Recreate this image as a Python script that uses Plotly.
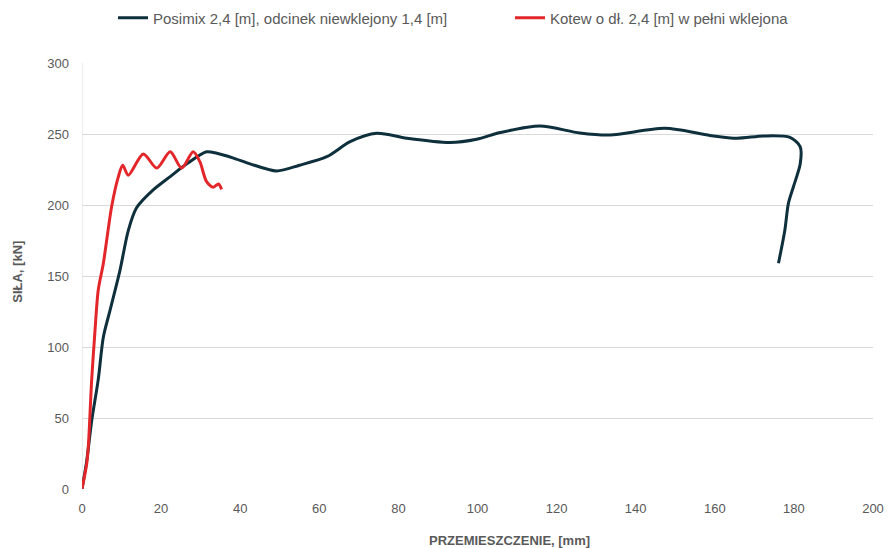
import plotly.graph_objects as go

# Load–displacement data (displacement in mm, force in kN)
posimix_x = [0, 1.2, 2.45, 4.1, 5.4, 7.1, 9.6, 11.7, 13.8, 18.0, 22.3, 26.5, 31.5, 34.1, 38.3,
             42.5, 49.2, 55.0, 61.9, 67.8, 74.5, 82.1, 93.0, 99.8, 105.7, 115.8, 125.9,
             133.5, 147.4, 158.8, 165.6, 172.3, 179.0, 181.6, 181.6, 179.9, 178.6, 177.7, 176.1]
posimix_y = [0, 20, 48, 77, 107, 126, 154, 182, 198, 210.6, 220, 229, 237.5, 236.4, 233,
             229, 224, 228, 234, 244.6, 250.5, 247, 244, 246.3, 251, 255.6, 250.7,
             249.3, 254, 249, 247, 248.6, 247.6, 241, 229, 213, 201, 182, 159]

kotew_x = [0, 1.2, 1.6, 2.45, 3.3, 4.1, 5.4, 7.5, 9.2, 10.3, 11.7, 15.5, 18.9, 22.3, 25.2,
           28.1, 29.8, 31.5, 33.2, 34.5, 35.3]
kotew_y = [0, 18, 30, 77, 112, 140, 159, 199, 220, 228, 221, 236, 226, 237.5, 226,
           237.5, 230.5, 216.4, 212.5, 214.8, 211]

series_names = ["Posimix 2,4 [m], odcinek niewklejony 1,4 [m]",
                "Kotew o dł. 2,4 [m] w pełni wklejona"]
x_ticks = list(range(0, 201, 20))
y_ticks = list(range(0, 301, 50))

FONT = "Liberation Sans, Arial, sans-serif"
GRAY = "#595959"

fig = go.Figure()
fig.add_trace(go.Scatter(x=posimix_x, y=posimix_y, mode="lines", name=series_names[0],
                         legend="legend",
                         line=dict(color="#0E2F3C", width=3, shape="spline", smoothing=0.8)))
fig.add_trace(go.Scatter(x=kotew_x, y=kotew_y, mode="lines", name=series_names[1],
                         legend="legend2",
                         line=dict(color="#E3262A", width=3, shape="spline", smoothing=0.8)))

legend_common = dict(orientation="h", xanchor="left", yref="container", y=1 - 18 / 548,
                     yanchor="middle", xref="container",
                     font=dict(size=15, color=GRAY), itemwidth=30)

fig.update_layout(
    width=889, height=548,
    margin=dict(l=82, r=16, t=63, b=59, autoexpand=False),
    plot_bgcolor="white", paper_bgcolor="white",
    font=dict(family=FONT, color=GRAY, size=13),
    showlegend=True,
    legend=dict(x=113 / 889, **legend_common),
    legend2=dict(x=510 / 889, **legend_common),
    xaxis=dict(range=[0, 200], tickvals=x_ticks, showgrid=False, zeroline=False,
               showline=False, ticks="", automargin=False, ticklabelstandoff=10,
               tickfont=dict(size=13, color=GRAY)),
    yaxis=dict(range=[0, 300], tickvals=y_ticks, showgrid=True, gridcolor="#D9D9D9",
               gridwidth=1, zeroline=False, showline=False, ticks="", automargin=False,
               ticklabelstandoff=12, tickfont=dict(size=13, color=GRAY)),
    shapes=[dict(type="line", xref="x", yref="paper", x0=0, x1=0, y0=0, y1=1,
                 line=dict(color="#D9D9D9", width=1), layer="below")],
    annotations=[
        dict(text="<b>PRZEMIESZCZENIE, [mm]</b>", xref="paper", yref="paper",
             x=0.541, y=0, yshift=-51, xanchor="center", yanchor="middle",
             showarrow=False, font=dict(size=13, color=GRAY)),
        dict(text="<b>SIŁA, [kN]</b>", xref="paper", yref="paper", x=0, xshift=-64,
             y=0.51, textangle=-90, xanchor="center", yanchor="middle",
             showarrow=False, font=dict(size=13, color=GRAY)),
    ],
)

fig.write_html("out.html")
